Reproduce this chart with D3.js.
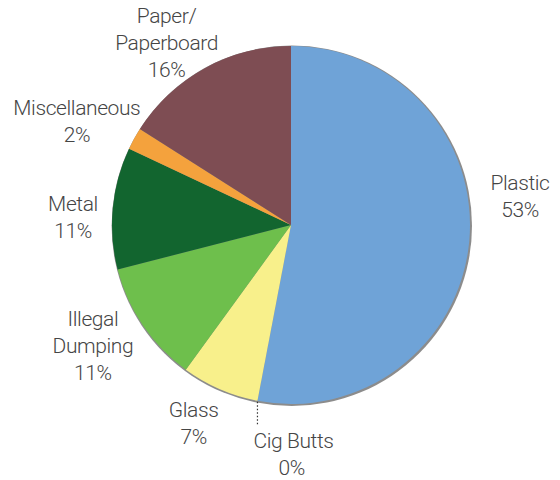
<!DOCTYPE html>
<html>
<head>
<meta charset="utf-8">
<script src="https://cdn.jsdelivr.net/npm/d3@7"></script>
<style>
  body { margin: 0; background: #fff; }
  .label { font-family: Roboto, "Noto Sans", sans-serif; font-weight: 300; font-size: 21px; letter-spacing: -0.4px; fill: #454545; }
</style>
</head>
<body>
<div id="pie"></div>
<script>
// data (percent of litter)
const categories = ["Plastic", "Cig Butts", "Glass", "Illegal Dumping", "Metal", "Miscellaneous", "Paper/Paperboard"];
const values = [53, 0, 7, 11, 11, 2, 16];
const labelLines = [["Plastic"], ["Cig Butts"], ["Glass"], ["Illegal", "Dumping"], ["Metal"], ["Miscellaneous"], ["Paper/", "Paperboard"]];

function makeChart() {
    const width = 560,
        height = 480,
        cx = 291,
        cy = 225,
        radius = 179,
        labelRadius = 225,
        lineHeight = 27;

    const colors = ["#6fa3d7", "#c9c9c9", "#f8f08b", "#6ebf4c", "#12652f", "#f4a23d", "#7e4d53"];
    // small nudges so the label blocks sit where the original put them
    const nudges = [[5, -50], [0, 0], [-8, -8], [-12, -6], [6, 13], [-17, 4], [-16, 15]];

    const data = categories.map((c, i) => ({ name: c, value: values[i], lines: labelLines[i], i: i }));

    let svg = d3.select('#pie').append('svg')
        .attr('width', width)
        .attr('height', height);

    let g = svg.append('g')
        .attr('transform', 'translate(' + cx + ',' + cy + ')');

    let pie = d3.pie()
        .sort(null)
        .value(d => d.value);

    let arcs = pie(data);

    let arc = d3.arc()
        .innerRadius(0)
        .outerRadius(radius);

    let labelArc = d3.arc()
        .innerRadius(labelRadius)
        .outerRadius(labelRadius);

    // thin grey rim / shadow behind the pie
    g.append('circle')
        .attr('cx', 0.8)
        .attr('cy', 0.8)
        .attr('r', radius + 1.2)
        .style('fill', '#8c8c8c');

    g.selectAll('path.slice')
        .data(arcs)
        .enter().append('path')
        .attr('class', 'slice')
        .attr('d', arc)
        .style('fill', d => colors[d.data.i]);

    // labels
    let labels = g.selectAll('text.label')
        .data(arcs.filter(d => d.data.value > 0))
        .enter().append('text')
        .attr('class', 'label')
        .attr('text-anchor', 'middle')
        .attr('transform', d => {
            let c = labelArc.centroid(d);
            let n = nudges[d.data.i];
            let lines = d.data.lines.length + 1;
            let top = c[1] + n[1] - (lines - 1) * lineHeight / 2 + 7.5;
            return 'translate(' + (c[0] + n[0]) + ',' + top + ')';
        });

    labels.each(function(d) {
        let t = d3.select(this);
        d.data.lines.concat([d.data.value + '%']).forEach((s, k) => {
            t.append('tspan')
                .attr('x', 0)
                .attr('y', k * lineHeight)
                .text(s);
        });
    });

    // zero slice gets a dotted leader and a label below
    let zero = arcs.filter(d => d.data.value === 0);
    zero.forEach(d => {
        let a = d.startAngle;
        let x = Math.sin(a) * radius,
            y = -Math.cos(a) * radius;
        g.append('line')
            .attr('x1', x).attr('y1', y + 1)
            .attr('x2', x).attr('y2', y + 25)
            .style('stroke', '#333')
            .style('stroke-width', 1.2)
            .style('stroke-dasharray', '1.5,2');
        let t = g.append('text')
            .attr('class', 'label')
            .attr('text-anchor', 'start')
            .attr('transform', 'translate(' + (x - 4) + ',' + (y + 47) + ')');
        t.append('tspan').attr('x', 0).attr('y', 0).text(d.data.name);
        t.append('tspan').attr('x', 25).attr('y', lineHeight).text(d.data.value + '%');
    });
}

makeChart();
</script>
</body>
</html>
